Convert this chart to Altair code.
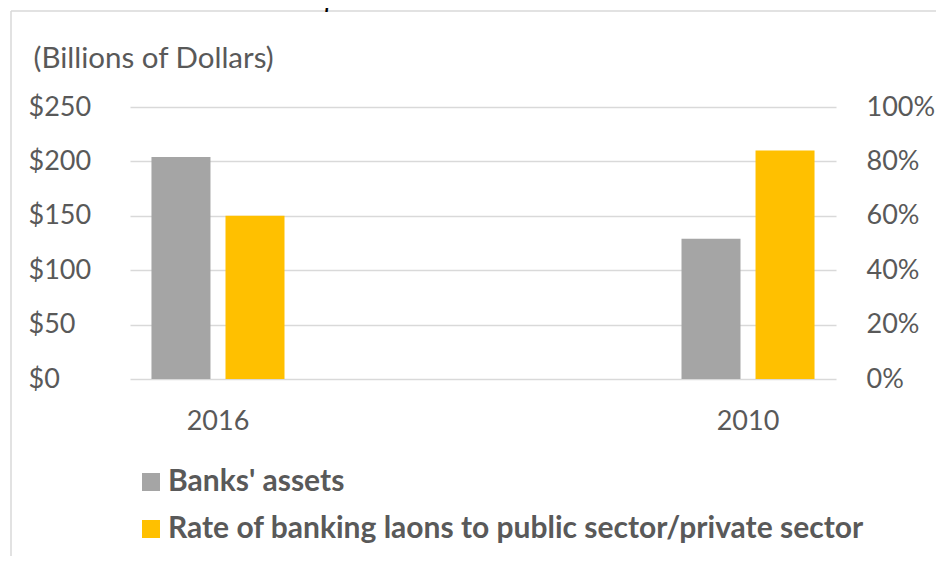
import altair as alt
import pandas as pd

years = ["2016", "2010"]
assets = [204, 129]
loan_rate = [0.60, 0.84]
series = ["Banks' assets", "Rate of banking laons to public sector/private sector"]
colors = ["#A5A5A5", "#FFC000"]
title_text = "Graph 5 \u2013 Banks' Assets and Loans"
y_label = "(Billions of Dollars)"
left_ticks = [0, 50, 100, 150, 200, 250]
right_ticks = [0, 0.2, 0.4, 0.6, 0.8, 1.0]

df_a = pd.DataFrame({"year": years, "value": assets, "series": series[0]})
df_r = pd.DataFrame({"year": years, "value": loan_rate, "series": series[1]})
df_t = pd.DataFrame({"t": [title_text]})

FONT = "Lato"
TXT = "#595959"
GRID = "#D9D9D9"

x_enc = alt.X(
    "year:N", sort=years,
    scale=alt.Scale(paddingInner=0.749, paddingOuter=0.0405),
    axis=alt.Axis(title=None, labelAngle=0, ticks=False, domain=False, grid=False,
                  labelPadding=29, labelFontSize=27, labelColor=TXT, labelFont=FONT),
)
xoff = alt.XOffset("series:N", scale=alt.Scale(domain=series, paddingInner=0.203, paddingOuter=0))
color = alt.Color(
    "series:N",
    scale=alt.Scale(domain=series, range=colors),
    legend=alt.Legend(
        title=None, orient="none", legendX=6, legendY=360, direction="vertical",
        symbolType="square", symbolSize=324, symbolStrokeWidth=0,
        labelFontSize=30, labelFontWeight="bold", labelColor=TXT, labelFont=FONT,
        labelLimit=900, rowPadding=17, labelOffset=2,
    ),
)

bars_a = alt.Chart(df_a).mark_bar().encode(
    x=x_enc, xOffset=xoff, color=color,
    y=alt.Y(
        "value:Q", scale=alt.Scale(domain=[0, 250]),
        axis=alt.Axis(
            orient="left", values=left_ticks, format="$,.0f", ticks=False, domain=False,
            grid=True, gridColor=GRID, gridWidth=1.3,
            labelAlign="left", labelPadding=102, labelFontSize=27, labelColor=TXT, labelFont=FONT,
            title=y_label, titleAngle=0, titleX=-97, titleY=-49, titleAlign="left",
            titleBaseline="middle", titleFontSize=29.5, titleFontWeight="normal",
            titleColor=TXT, titleFont=FONT,
        ),
    ),
)

bars_r = alt.Chart(df_r).mark_bar().encode(
    x=x_enc, xOffset=xoff, color=color,
    y=alt.Y(
        "value:Q", scale=alt.Scale(domain=[0, 1]),
        axis=alt.Axis(
            orient="right", values=right_ticks, format=".0%", ticks=False, domain=False,
            grid=False, labelAlign="left", labelPadding=30, labelFontSize=27,
            labelColor=TXT, labelFont=FONT, title=None,
        ),
    ),
)

title_layer = alt.Chart(df_t).mark_text(
    font=FONT, fontSize=28, fontStyle="italic", color="#000000",
    baseline="alphabetic", align="center",
).encode(text="t:N", x=alt.value(355), y=alt.value(-100))

frame_v = alt.Chart(df_t).mark_rule(color=GRID, strokeWidth=1.5).encode(
    x=alt.value(-119), y=alt.value(-96), y2=alt.value(470)
)
frame_h = alt.Chart(df_t).mark_rule(color=GRID, strokeWidth=1.5).encode(
    x=alt.value(-119), x2=alt.value(820), y=alt.value(-96)
)

chart = alt.layer(frame_v, frame_h, title_layer, bars_a, bars_r).resolve_scale(
    y="independent"
).properties(
    width=706, height=272,
    autosize=alt.AutoSizeParams(type="none"),
    padding={"left": 122, "top": 99, "right": 100, "bottom": 177},
).configure_view(stroke=None)

chart.save("out.html", embed_options={"renderer": "svg", "actions": False})
